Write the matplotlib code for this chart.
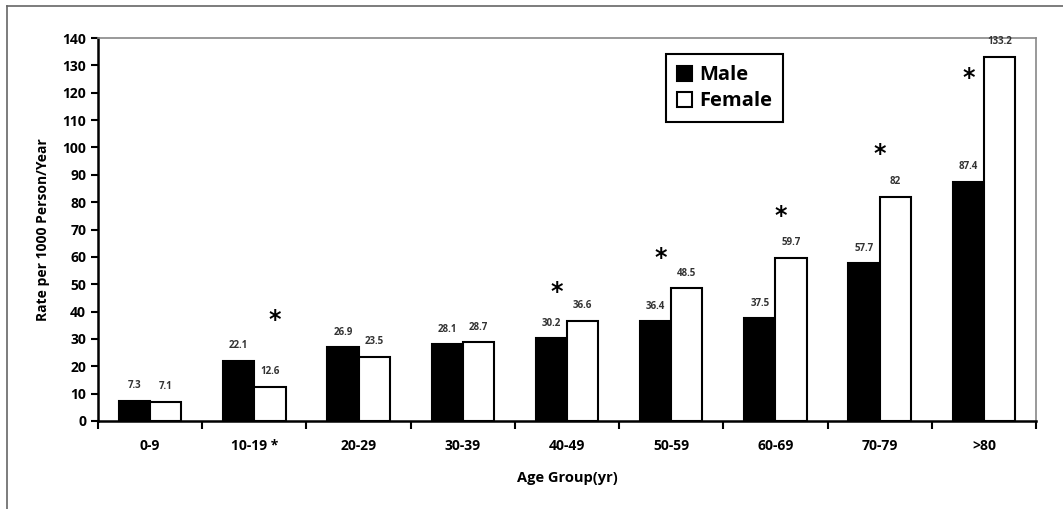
import matplotlib.pyplot as plt
import numpy as np
from matplotlib.lines import Line2D

plt.rcParams["font.family"] = ["Open Sans", "DejaVu Sans"]

# datos
grupos = ["0-9", "10-19 *", "20-29", "30-39", "40-49", "50-59", "60-69", "70-79", ">80"]
hombres = [7.3, 22.1, 26.9, 28.1, 30.2, 36.4, 37.5, 57.7, 87.4]
mujeres = [7.1, 12.6, 23.5, 28.7, 36.6, 48.5, 59.7, 82, 133.2]
etiq_hombres = ["7.3", "22.1", "26.9", "28.1", "30.2", "36.4", "37.5", "57.7", "87.4"]
etiq_mujeres = ["7.1", "12.6", "23.5", "28.7", "36.6", "48.5", "59.7", "82", "133.2"]
# asteriscos de significacion (grupo, altura)
ast_grupo = [1.2, 3.9, 4.9, 6.05, 7.0, 7.85]
ast_altura = [37, 47, 59.7, 75, 97.7, 125.5]

fig = plt.figure(figsize=(10.63, 5.09), dpi=100)
ax = fig.add_axes([0.0922, 0.1729, 0.8824, 0.7524])

x = np.arange(len(grupos))
w = 0.3
ax.bar(x - w / 2, hombres, w, color="black", edgecolor="black", linewidth=1.5, label="Male")
ax.bar(x + w / 2, mujeres, w, color="white", edgecolor="black", linewidth=1.5, label="Female")

for xi, v, t in zip(x, hombres, etiq_hombres):
    ax.text(xi - w / 2, v + 3.5, t, ha="center", va="bottom", fontsize=7,
            fontweight="bold", color="#333333")
for xi, v, t in zip(x, mujeres, etiq_mujeres):
    ax.text(xi + w / 2, v + 3.5, t, ha="center", va="bottom", fontsize=7,
            fontweight="bold", color="#333333")

for gx, gy in zip(ast_grupo, ast_altura):
    ax.text(gx, gy, "*", ha="center", va="center", fontsize=17, fontweight="bold",
            family="DejaVu Sans")

ax.set_xlim(-0.5, len(grupos) - 0.5)
ax.set_ylim(0, 140)
ax.set_yticks(np.arange(0, 141, 10))

# ticks en los limites de cada grupo, etiquetas en el centro
ax.set_xticks(np.arange(-0.5, len(grupos), 1.0))
ax.set_xticklabels([])
ax.set_xticks(x, minor=True)
ax.set_xticklabels(grupos, minor=True)
ax.tick_params(axis="x", which="major", direction="out", length=6, width=1.5)
ax.tick_params(axis="x", which="minor", length=0, pad=13, labelsize=10)
ax.tick_params(axis="y", direction="out", length=5, width=1.5, labelsize=10)
for lab in ax.get_xticklabels(minor=True) + ax.get_yticklabels():
    lab.set_fontweight("bold")

for s in ["left", "bottom"]:
    ax.spines[s].set_linewidth(1.8)
for s in ["top", "right"]:
    ax.spines[s].set_color("#888888")
    ax.spines[s].set_linewidth(1.2)

ax.set_xlabel("Age Group(yr)", fontsize=10.5, fontweight="bold", labelpad=13)
ax.set_ylabel("Rate per 1000 Person/Year", fontsize=10, fontweight="bold", labelpad=9)

leg = ax.legend(loc="upper left", bbox_to_anchor=(0.6055, 0.958), borderaxespad=0,
                prop={"weight": "bold", "size": 14.5}, fancybox=False, framealpha=1,
                edgecolor="black", handlelength=0.75, handleheight=0.75,
                handletextpad=0.35, borderpad=0.55, labelspacing=0.3)
leg.get_frame().set_linewidth(1.5)

# marco exterior de la figura
fig.add_artist(Line2D([7 / 1063, 7 / 1063], [0, 503 / 509], color="#666666", lw=1.2))
fig.add_artist(Line2D([7 / 1063, 1], [503 / 509, 503 / 509], color="#666666", lw=1.2))

fig.savefig("out.png", dpi=100)
